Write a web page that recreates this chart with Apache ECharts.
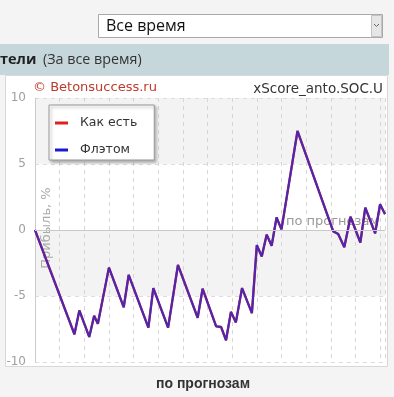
<!DOCTYPE html>
<html><head><meta charset="utf-8">
<script src="https://cdn.jsdelivr.net/npm/echarts@6/dist/echarts.min.js"></script>
<style>html,body{margin:0;padding:0;background:#f4f4f4;}#c{width:394px;height:397px;}</style>
</head><body><div id="c"></div>
<script>
// Prediction number (x) and profit, % (y) at each turning point of the curve
const predictionNo = [0,16,18,22,24,25.5,30,36,38,46,48,54,58,66,68,73.5,75.5,77.5,79.5,81.5,84,88,90,92,94,96,98,100,106.5,121,123,125.5,128,132,134,138,140,142];
const asIsProfit   = [0,-7.9,-6.1,-8.1,-6.5,-7.1,-2.85,-5.85,-3.4,-7.4,-4.4,-7.4,-2.65,-6.65,-4.45,-7.3,-7.35,-8.35,-6.2,-7.0,-4.4,-6.3,-1.15,-2.0,-0.35,-1.2,0.95,0.05,7.5,-0.1,-0.3,-1.3,1.0,-0.95,1.7,-0.25,1.95,1.2];
const flatProfit   = [0,-7.9,-6.1,-8.1,-6.5,-7.1,-2.85,-5.85,-3.4,-7.4,-4.4,-7.4,-2.65,-6.65,-4.45,-7.3,-7.35,-8.35,-6.2,-7.0,-4.4,-6.3,-1.15,-2.0,-0.35,-1.2,0.95,0.05,7.5,-0.1,-0.3,-1.3,1.0,-0.95,1.7,-0.25,1.95,1.2];
const seriesNames  = ['Как есть', 'Флэтом'];
const yMin = -10, yMax = 10, yStep = 5;
const xMin = 0, xMax = 142, xStep = 10;

const chart = echarts.init(document.getElementById('c'), null, {renderer: 'canvas'});
const pair = (ys) => predictionNo.map((x, i) => [x, ys[i]]);
const F = 'DejaVu Sans';

chart.setOption({
  backgroundColor: '#f4f4f4',
  animation: false,
  grid: {left: 35, right: 9, top: 98, bottom: 35, containLabel: false},
  xAxis: {
    type: 'value', min: xMin, max: xMax, interval: xStep,
    axisLabel: {show: false}, axisTick: {show: false},
    axisLine: {show: true, lineStyle: {color: '#cccccc'}},
    splitLine: {show: true, lineStyle: {color: '#d6d6d6', type: [4, 4]}}
  },
  yAxis: {
    type: 'value', min: yMin, max: yMax, interval: yStep,
    axisLabel: {color: '#a0a0a0', fontSize: 12, fontFamily: F, margin: 9},
    axisTick: {show: false},
    axisLine: {show: true, lineStyle: {color: '#cccccc'}},
    splitLine: {show: true, lineStyle: {color: '#dddddd', type: [4, 4]}},
    splitArea: {show: true, areaStyle: {color: ['#ffffff', '#f3f3f3']}}
  },
  legend: {
    left: 49, top: 105, orient: 'vertical', icon: 'rect',
    itemWidth: 13, itemHeight: 3, itemGap: 11,
    padding: [10, 17, 2, 6],
    backgroundColor: '#ffffff', borderColor: '#999999', borderWidth: 1,
    shadowColor: 'rgba(0,0,0,0.3)', shadowBlur: 3, shadowOffsetX: 2, shadowOffsetY: 2,
    selectedMode: false,
    textStyle: {fontSize: 12.5, color: '#333', fontFamily: F, padding: [0, 0, 0, 7], lineHeight: 16},
    data: [
      {name: seriesNames[0], itemStyle: {color: '#e02020'}},
      {name: seriesNames[1], itemStyle: {color: '#1a1ad0'}}
    ]
  },
  graphic: [
    {type: 'rect', z: -10, shape: {x: 98.5, y: 14.5, width: 284, height: 23}, style: {fill: '#ffffff', stroke: '#a9a9a9', lineWidth: 1}},
    {type: 'rect', z: -9, shape: {x: 371.5, y: 15.5, width: 10, height: 21}, style: {fill: '#e6e6e6', stroke: '#c4c4c4', lineWidth: 1}},
    {type: 'polyline', z: -8, shape: {points: [[374, 24], [376.5, 26.5], [379, 24]]}, style: {stroke: '#666', lineWidth: 1, fill: null}},
    {type: 'text', z: -8, x: 106, y: 26, style: {text: 'Все время', fill: '#111', font: '16px "Open Sans"', textVerticalAlign: 'middle'}},
    {type: 'rect', z: -10, shape: {x: 0, y: 44, width: 389, height: 31}, style: {fill: '#c6d7dc'}},
    {type: 'text', z: -8, x: 0, y: 60, style: {
      text: '{b|тели}  {n|(За все время)}', textVerticalAlign: 'middle',
      rich: {b: {font: 'bold 14.5px "Open Sans"', fill: '#222'}, n: {font: '14.3px "Open Sans"', fill: '#333'}}
    }},
    {type: 'rect', z: -10, shape: {x: 5.5, y: 75.5, width: 382, height: 291}, style: {fill: '#ffffff', stroke: '#d8d8d8', lineWidth: 1}},
    {type: 'text', z: -5, x: 33, y: 88, style: {text: '© Betonsuccess.ru', fill: '#c0392b', font: '13px "DejaVu Sans"', textVerticalAlign: 'middle'}},
    {type: 'text', z: -5, x: 383, y: 89, style: {text: 'xScore_anto.SOC.U', fill: '#333', font: '13.5px "DejaVu Sans"', textAlign: 'right', textVerticalAlign: 'middle'}},
    {type: 'text', z: 1, x: 47, y: 228, rotation: Math.PI / 2, style: {text: 'Прибыль, %', fill: '#aaaaaa', font: '13px "DejaVu Sans"', textAlign: 'center', textVerticalAlign: 'middle'}},
    {type: 'text', z: 1, x: 286, y: 222, style: {text: 'по прогнозам', fill: '#999999', font: '13px "DejaVu Sans"', textVerticalAlign: 'middle'}},
    {type: 'text', z: 1, x: 203, y: 384, style: {text: 'по прогнозам', fill: '#333', font: 'bold 14px "Liberation Sans"', textAlign: 'center', textVerticalAlign: 'middle'}}
  ],
  series: [
    {
      name: seriesNames[0], type: 'line', data: pair(asIsProfit), showSymbol: false, symbol: 'none',
      color: '#e02020', lineStyle: {width: 2.4, color: '#c02040'}, z: 3
    },
    {
      name: seriesNames[1], type: 'line', data: pair(flatProfit), showSymbol: false, symbol: 'none',
      color: '#1a1ad0', lineStyle: {width: 2, color: '#4a28b4'}, z: 4,
      markLine: {silent: true, symbol: 'none', label: {show: false},
        lineStyle: {color: '#c8c8c8', type: 'solid', width: 1}, data: [{yAxis: 0}]}
    }
  ]
});
</script></body></html>
